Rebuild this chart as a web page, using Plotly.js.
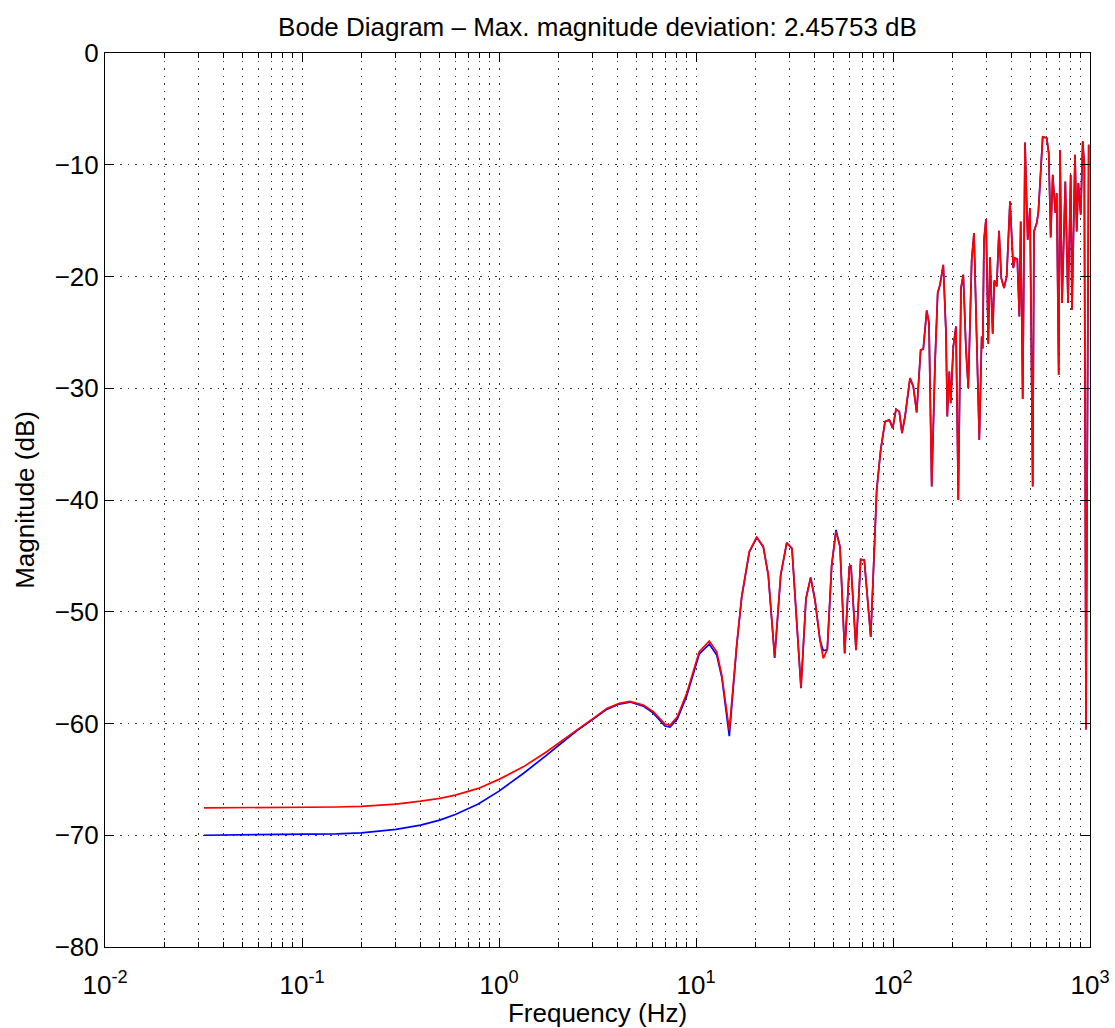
<!DOCTYPE html>
<html>
<head>
<meta charset="utf-8">
<script src="https://cdn.plot.ly/plotly-3.0.1.min.js"></script>
<style>html,body{margin:0;padding:0;background:#fff;}</style>
</head>
<body>
<div id="chart" style="width:1115px;height:1028px;"></div>
<script>
// Frequency points (Hz)
const freqHz = [
  0.0318, 0.05, 0.1, 0.15, 0.2, 0.25, 0.3, 0.4, 0.5, 0.6, 0.785, 1.0,
  1.328, 1.746, 2.04, 2.48, 3.01, 3.52, 4.08, 4.62, 5.40, 6.07,
  6.96, 7.38, 8.04, 8.97, 10.39, 11.68, 12.74, 13.51, 14.76, 16.09,
  17.06, 18.65, 20.33, 21.96, 23.28, 25.08, 26.91, 28.87, 30.71, 34.12,
  36.17, 38.21, 40.19, 42.60, 44.28, 46.40, 48.85, 51.37, 53.83, 56.86,
  60.0, 61.2, 64.9, 68.55, 71.5, 77.07, 81.0, 82.65, 86.6, 91.1,
  95.8, 99.7, 103.6, 107.6, 111.1, 115.1, 122.0, 126.8, 131.9, 138.2,
  142.5, 148.3, 152.3, 157.2, 163.4, 168.6, 173.2, 180.0, 185.8, 188.6,
  193.1, 196.3, 202.4, 208.8, 214.5, 221.4, 227.4, 234.7, 241.1, 250.9,
  257.7, 274.2, 282.0, 285.3, 289.7, 296.6, 304.6, 310.7, 320.7, 326.8,
  336.1, 345.3, 354.6, 366.0, 377.7, 392.5, 408.0, 416.2, 427.6, 437.7,
  444.9, 455.4, 467.9, 482.8, 496.0, 511.9, 519.7, 536.4, 546.6, 575.4,
  602.9, 617.2, 631.8, 646.9, 666.9, 677.6, 693.6, 704.3, 721.1, 749.4,
  773.4, 798.0, 810.3, 839.3, 856.1, 872.3, 897.2, 918.4, 935.7, 954.3,
  984.9
];

// Blue curve magnitude (dB)
const magBlueDb = [
  -70.00, -69.98, -69.93, -69.87, -69.79, -69.65, -69.48, -69.10, -68.65, -68.14, -67.21, -66.05,
  -64.47, -62.83, -61.84, -60.65, -59.60, -58.74, -58.26, -58.08, -58.44, -59.07,
  -60.23, -60.32, -59.60, -57.54, -53.78, -52.89, -53.87, -55.84, -61.13, -53.07,
  -48.70, -44.66, -43.36, -44.20, -46.75, -54.14, -46.74, -43.85, -44.35, -56.85,
  -48.82, -46.94, -48.97, -52.55, -53.49, -53.38, -45.83, -42.68, -44.19, -53.74,
  -45.99, -45.86, -53.44, -45.32, -45.39, -52.25, -42.97, -39.10, -35.51, -32.98,
  -32.83, -33.57, -31.87, -32.09, -34.02, -32.53, -29.09, -29.85, -32.17, -26.56,
  -26.50, -23.04, -24.17, -38.80, -27.75, -21.48, -20.74, -18.95, -25.06, -32.53,
  -28.50, -31.33, -26.26, -24.47, -39.99, -21.03, -19.84, -26.56, -29.99, -18.50,
  -16.11, -34.62, -25.37, -26.44, -16.71, -14.86, -26.02, -18.29, -25.13, -20.35,
  -20.89, -15.90, -20.14, -21.04, -20.00, -13.28, -19.24, -18.35, -18.44, -23.58,
  -15.07, -30.97, -8.00, -16.71, -13.87, -38.80, -15.97, -15.21, -14.32, -7.51,
  -7.60, -8.95, -16.50, -10.89, -14.32, -12.53, -28.80, -8.71, -22.38, -11.49,
  -22.38, -10.89, -22.98, -9.10, -15.97, -11.64, -14.47, -7.91, -9.98, -60.53,
  -8.20
];

// Red curve magnitude (dB)
const magRedDb = [
  -67.55, -67.54, -67.50, -67.47, -67.42, -67.33, -67.21, -66.95, -66.70, -66.41, -65.81, -65.00,
  -63.88, -62.53, -61.64, -60.59, -59.54, -58.65, -58.20, -58.02, -58.35, -58.95,
  -60.05, -60.17, -59.40, -57.30, -53.58, -52.62, -53.58, -55.66, -60.59, -52.98,
  -48.65, -44.62, -43.33, -44.17, -46.71, -54.03, -46.71, -43.82, -44.32, -56.80,
  -48.80, -46.92, -48.95, -52.53, -54.17, -53.36, -45.81, -42.83, -44.17, -53.72,
  -45.97, -45.84, -53.42, -45.30, -45.37, -52.23, -42.97, -39.10, -35.51, -32.98,
  -32.83, -33.57, -31.87, -32.09, -34.02, -32.53, -29.09, -29.85, -32.17, -26.56,
  -26.50, -23.04, -24.17, -38.80, -27.75, -21.48, -20.74, -18.95, -25.06, -32.53,
  -28.50, -31.33, -26.26, -24.47, -39.99, -21.03, -19.84, -26.56, -29.99, -18.50,
  -16.11, -34.62, -25.37, -26.44, -16.71, -14.86, -26.02, -18.29, -25.13, -20.35,
  -20.89, -15.90, -20.14, -21.04, -20.00, -13.28, -19.24, -18.35, -18.44, -23.58,
  -15.07, -30.97, -8.00, -16.71, -13.87, -38.80, -15.97, -15.21, -14.32, -7.51,
  -7.60, -8.95, -16.50, -10.89, -14.32, -12.53, -28.80, -8.71, -22.38, -11.49,
  -22.38, -10.89, -22.98, -9.10, -15.97, -11.64, -14.47, -7.91, -9.98, -60.53,
  -8.20
];

const xTickVals = [0.01, 0.1, 1, 10, 100, 1000];
const xTickText = ['10<sup>-2</sup>', '10<sup>-1</sup>', '10<sup>0</sup>', '10<sup>1</sup>', '10<sup>2</sup>', '10<sup>3</sup>'];
const yTickVals = [0, -10, -20, -30, -40, -50, -60, -70, -80];

const titleText = 'Bode Diagram \u2013 Max. magnitude deviation: 2.45753 dB';
const xTitle = 'Frequency (Hz)';
const yTitle = 'Magnitude (dB)';

// minor log ticks 2..9 per decade
const minorVals = [];
for (let d = 0; d < xTickVals.length - 1; d++) {
  for (let k = 2; k <= 9; k++) minorVals.push(k * xTickVals[d]);
}

const gridCol = 'rgba(0,0,0,0.8)';
const gridDash = '1.5px,6px';
const FONT = 'Liberation Sans, Arial, Helvetica, sans-serif';
const FS = 26;

const traces = [
  {x: freqHz, y: magBlueDb, type: 'scatter', mode: 'lines',
   line: {color: '#0000ff', width: 1.7}, hoverinfo: 'skip'},
  {x: freqHz, y: magRedDb, type: 'scatter', mode: 'lines',
   line: {color: '#ff0000', width: 1.7}, hoverinfo: 'skip'}
];

const layout = {
  width: 1115, height: 1028,
  margin: {l: 105, r: 25, t: 53, b: 81, pad: 0},
  paper_bgcolor: '#ffffff', plot_bgcolor: '#ffffff',
  font: {family: FONT, size: FS, color: '#000'},
  showlegend: false,
  title: {text: titleText, x: 0.5, xanchor: 'center', xref: 'paper',
          y: 1 - 27 / 1028, yanchor: 'middle', font: {family: FONT, size: FS, color: '#000'}},
  xaxis: {
    type: 'log', range: [-2, 3],
    tickmode: 'array', tickvals: xTickVals, ticktext: xTickText,
    ticks: 'inside', ticklen: 9, tickwidth: 1, tickcolor: '#000',
    ticklabelstandoff: 15,
    showline: true, linecolor: '#000', linewidth: 1, mirror: 'ticks',
    showgrid: true, gridcolor: gridCol, gridwidth: 1, griddash: gridDash,
    zeroline: false, automargin: false,
    tickfont: {family: FONT, size: FS, color: '#000'},
    minor: {tickmode: 'array', tickvals: minorVals, ticks: 'inside', ticklen: 5, tickcolor: '#000',
            showgrid: true, gridcolor: gridCol, gridwidth: 1, griddash: gridDash},
    title: {text: xTitle, font: {family: FONT, size: FS, color: '#000'}, standoff: 0}
  },
  yaxis: {
    range: [-80, 0],
    tickmode: 'array', tickvals: yTickVals,
    ticks: 'inside', ticklen: 9, tickwidth: 1, tickcolor: '#000',
    showline: true, linecolor: '#000', linewidth: 1, mirror: 'ticks',
    showgrid: true, gridcolor: gridCol, gridwidth: 1, griddash: gridDash,
    zeroline: false, automargin: false,
    tickfont: {family: FONT, size: FS, color: '#000'},
    title: {text: yTitle, font: {family: FONT, size: FS, color: '#000'}, standoff: 12}
  }
};

Plotly.newPlot('chart', traces, layout, {staticPlot: true, displayModeBar: false});
</script>
</body>
</html>
